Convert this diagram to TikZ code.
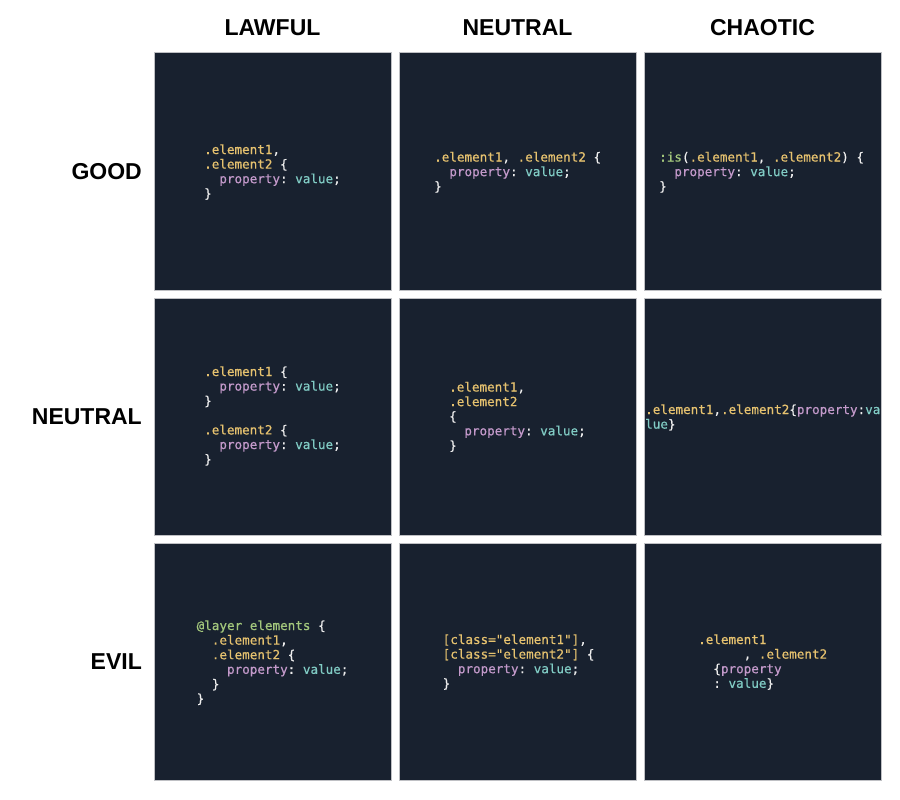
\documentclass[tikz,border=0pt]{standalone}
\usepackage{fontspec}
\setmainfont{Liberation Sans}
\setmonofont[FakeBold=0.6]{DejaVu Sans Mono}
\definecolor{bgsq}{HTML}{18212F}
\definecolor{edge}{HTML}{BFC0C4}
\definecolor{csel}{HTML}{E6C26F}
\definecolor{cprop}{HTML}{C49ACB}
\definecolor{cval}{HTML}{80CBC4}
\definecolor{cgrn}{HTML}{A3C77C}
\definecolor{cpun}{HTML}{EEEEEE}
\newcommand\Sel[1]{\textcolor{csel}{#1}}
\newcommand\Prop[1]{\textcolor{cprop}{#1}}
\newcommand\Val[1]{\textcolor{cval}{#1}}
\newcommand\Grn[1]{\textcolor{cgrn}{#1}}
\newcommand\idt[1]{\hspace*{#1\fontcharwd\font`\x}}
\newcommand\PV{\Prop{property}: \Val{value};}
\tikzset{
  cellbox/.style={draw=edge, line width=1pt, fill=bgsq, minimum size=237pt, inner sep=0pt},
  hdr/.style={font=\fontsize{23}{27}\selectfont\bfseries, inner sep=0pt, text=black},
  codeln/.style={anchor=base west, inner sep=0pt, text=cpun, font=\ttfamily\fontsize{12.6}{14.6}\selectfont},
}
\begin{document}
\begin{tikzpicture}[x=1pt,y=-1pt]
\useasboundingbox (0,0) rectangle (900,800);
\fill[white] (0,0) rectangle (900,800);
% headers
\node[hdr, anchor=base] (hL) at (272.5,36) {LAWFUL};
\node[hdr, anchor=base] (hN) at (517.5,36) {NEUTRAL};
\node[hdr, anchor=base] (hC) at (762.5,36) {CHAOTIC};
\node[hdr, anchor=base east] (rG) at (142,179.5) {GOOD};
\node[hdr, anchor=base east] (rN) at (142,424.5) {NEUTRAL};
\node[hdr, anchor=base east] (rE) at (142,669.5) {EVIL};
% squares
\node[cellbox] (s11) at (272.5,171.5) {};
\node[cellbox] (s12) at (517.5,171.5) {};
\node[cellbox] (s13) at (762.5,171.5) {};
\node[cellbox] (s21) at (272.5,416.5) {};
\node[cellbox] (s22) at (517.5,416.5) {};
\node[cellbox] (s23) at (762.5,416.5) {};
\node[cellbox] (s31) at (272.5,661.5) {};
\node[cellbox] (s32) at (517.5,661.5) {};
\node[cellbox] (s33) at (762.5,661.5) {};
% lawful good
\node[codeln] (lg1) at (204,154) {\Sel{.element1},};
\node[codeln] (lg2) at (204,168.6) {\Sel{.element2} \{};
\node[codeln] (lg3) at (204,183.2) {\idt{2}\PV};
\node[codeln] (lg4) at (204,197.8) {\}};
% neutral good
\node[codeln] (ng1) at (434,161.5) {\Sel{.element1}, \Sel{.element2} \{};
\node[codeln] (ng2) at (434,176.1) {\idt{2}\PV};
\node[codeln] (ng3) at (434,190.7) {\}};
% chaotic good
\node[codeln] (cg1) at (659,161.5) {\Grn{:is}(\Sel{.element1}, \Sel{.element2}) \{};
\node[codeln] (cg2) at (659,176.1) {\idt{2}\PV};
\node[codeln] (cg3) at (659,190.7) {\}};
% lawful neutral
\node[codeln] (ln1) at (204,376) {\Sel{.element1} \{};
\node[codeln] (ln2) at (204,390.6) {\idt{2}\PV};
\node[codeln] (ln3) at (204,405.2) {\}};
\node[codeln] (ln4) at (204,434.4) {\Sel{.element2} \{};
\node[codeln] (ln5) at (204,449) {\idt{2}\PV};
\node[codeln] (ln6) at (204,463.6) {\}};
% true neutral
\node[codeln] (nn1) at (449,391.5) {\Sel{.element1},};
\node[codeln] (nn2) at (449,406.1) {\Sel{.element2}};
\node[codeln] (nn3) at (449,420.7) {\{};
\node[codeln] (nn4) at (449,435.3) {\idt{2}\PV};
\node[codeln] (nn5) at (449,449.9) {\}};
% chaotic neutral
\node[codeln] (cn1) at (645,414) {\Sel{.element1},\Sel{.element2}\{\Prop{property}:\Val{va}};
\node[codeln] (cn2) at (645,428.6) {\Val{lue}\}};
% lawful evil
\node[codeln] (le1) at (196.5,630) {\Grn{@layer elements} \{};
\node[codeln] (le2) at (196.5,644.6) {\idt{2}\Sel{.element1},};
\node[codeln] (le3) at (196.5,659.2) {\idt{2}\Sel{.element2} \{};
\node[codeln] (le4) at (196.5,673.8) {\idt{4}\PV};
\node[codeln] (le5) at (196.5,688.4) {\idt{2}\}};
\node[codeln] (le6) at (196.5,703) {\}};
% neutral evil
\node[codeln] (ne1) at (442.5,644) {\Sel{[class="element1"]},};
\node[codeln] (ne2) at (442.5,658.6) {\Sel{[class="element2"]} \{};
\node[codeln] (ne3) at (442.5,673.2) {\idt{2}\PV};
\node[codeln] (ne4) at (442.5,687.8) {\}};
% chaotic evil
\node[codeln] (ce1) at (698,644) {\Sel{.element1}};
\node[codeln] (ce2) at (698,658.6) {\idt{6}, \Sel{.element2}};
\node[codeln] (ce3) at (698,673.2) {\idt{2}\{\Prop{property}};
\node[codeln] (ce4) at (698,687.8) {\idt{2}: \Val{value}\}};
\end{tikzpicture}
\end{document}
